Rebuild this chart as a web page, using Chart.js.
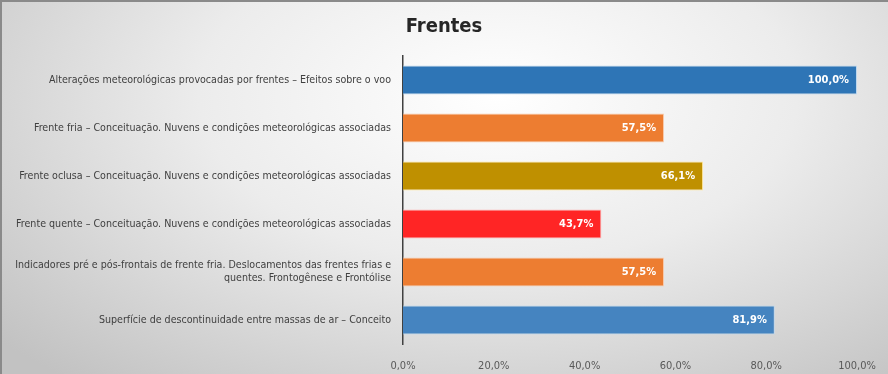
<!DOCTYPE html>
<html>
<head>
<meta charset="utf-8">
<script src="https://cdn.jsdelivr.net/npm/chart.js@4.4.1/dist/chart.umd.min.js"></script>
<style>
  html, body { margin: 0; padding: 0; }
  body { width: 888px; height: 374px; overflow: hidden; }
  .frame {
    position: relative;
    width: 888px; height: 374px;
    box-sizing: border-box;
    border-top: 2px solid #8a8a8a;
    border-left: 2px solid #8a8a8a;
    background: radial-gradient(ellipse 75% 100% at 56% 25%, #ffffff 0%, #ececec 45%, #c2c2c2 100%);
  }
  canvas { position: absolute; left: -2px; top: -2px; }
</style>
</head>
<body>
<div class="frame">
  <canvas id="chart" width="888" height="374"></canvas>
</div>
<script>
const categories = [
  'Alterações meteorológicas provocadas por frentes – Efeitos sobre o voo',
  'Frente fria – Conceituação. Nuvens e condições meteorológicas associadas',
  'Frente oclusa – Conceituação. Nuvens e condições meteorológicas associadas',
  'Frente quente – Conceituação. Nuvens e condições meteorológicas associadas',
  ['Indicadores pré e pós-frontais de frente fria. Deslocamentos das frentes frias e', 'quentes. Frontogênese e Frontólise'],
  'Superfície de descontinuidade entre massas de ar – Conceito'
];
const values = [100.0, 57.5, 66.1, 43.7, 57.5, 81.9];
const barColors = ['#2e75b6', '#ed7d31', '#bf9000', '#ff2525', '#ed7d31', '#4584c0'];
const barEdges = ['#bdd7ee', '#f8cbad', '#ffe699', '#ffb3b3', '#f8cbad', '#bdd7ee'];
const xTicks = [0, 20, 40, 60, 80, 100];

const fmt = v => v.toFixed(1).replace('.', ',') + '%';
const labelFont = '"Liberation Sans Narrow", "DejaVu Sans Condensed", sans-serif';

const valueLabels = {
  id: 'valueLabels',
  afterDatasetsDraw(chart) {
    const ctx = chart.ctx;
    const meta = chart.getDatasetMeta(0);
    ctx.save();
    ctx.font = 'bold 11px ' + labelFont;
    ctx.fillStyle = '#ffffff';
    ctx.textAlign = 'right';
    ctx.textBaseline = 'middle';
    meta.data.forEach((bar, i) => {
      ctx.fillText(fmt(values[i]), bar.x - 8, bar.y);
    });
    ctx.restore();
  }
};

new Chart(document.getElementById('chart'), {
  type: 'bar',
  data: {
    labels: categories,
    datasets: [{
      data: values,
      backgroundColor: barColors,
      borderColor: barEdges,
      borderWidth: 1,
      borderSkipped: 'start',
      categoryPercentage: 1,
      barPercentage: 0.6
    }]
  },
  options: {
    indexAxis: 'y',
    responsive: false,
    animation: false,
    layout: { padding: { left: 3, right: 3, top: 0, bottom: 0 } },
    plugins: {
      legend: { display: false },
      tooltip: { enabled: false },
      title: {
        display: true,
        text: 'Frentes',
        color: '#262626',
        font: { family: labelFont, size: 20, weight: 'bold' },
        padding: { top: 15, bottom: 17 }
      }
    },
    scales: {
      x: {
        min: 0,
        // range runs past 100 so the 100% bar stops short of the right edge
        max: 106.17,
        afterBuildTicks: s => { s.ticks = xTicks.map(v => ({ value: v })); },
        afterFit: s => { s.height = 30; },
        grid: { display: false },
        border: { display: false },
        ticks: {
          color: '#595959',
          padding: 8,
          font: { family: labelFont, size: 11 },
          callback: v => fmt(v)
        }
      },
      y: {
        afterFit: s => { s.width = 400; },
        grid: { display: false },
        border: { display: true, color: '#404040', width: 1.5 },
        ticks: {
          color: '#404040',
          padding: 4,
          font: { family: labelFont, size: 10.6 }
        }
      }
    }
  },
  plugins: [valueLabels]
});
</script>
</body>
</html>
